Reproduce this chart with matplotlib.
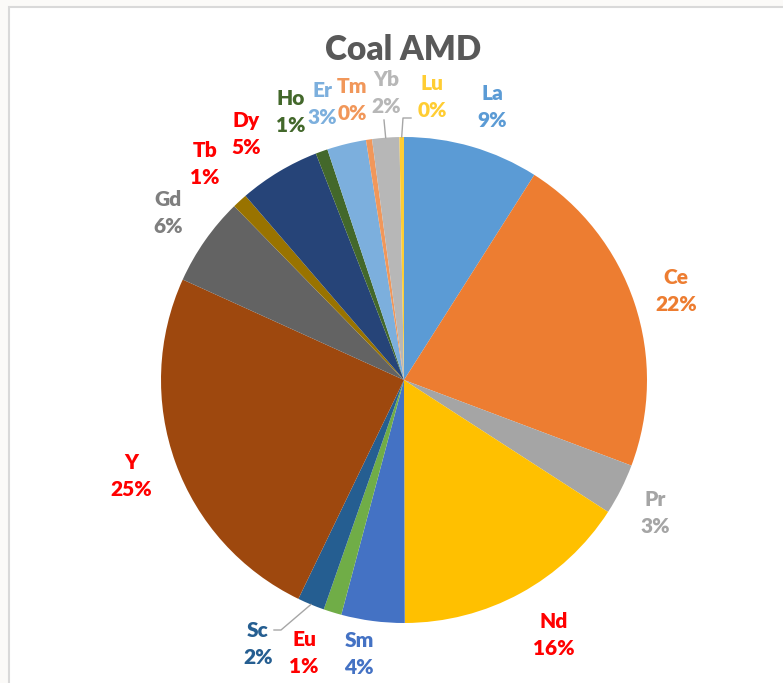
import numpy as np
import matplotlib.pyplot as plt
from matplotlib.patches import Rectangle

# share of each rare earth element in the coal AMD sample (%)
elements = ['La', 'Ce', 'Pr', 'Nd', 'Sm', 'Eu', 'Sc', 'Y',
            'Gd', 'Tb', 'Dy', 'Ho', 'Er', 'Tm', 'Yb', 'Lu']
shares = [9.0, 21.7, 3.4, 15.8, 4.2, 1.2, 1.8, 24.6,
          5.9, 1.0, 5.4, 0.8, 2.6, 0.4, 1.8, 0.3]

slice_colors = ['#5B9BD5', '#ED7D31', '#A5A5A5', '#FFC000', '#4472C4', '#70AD47',
                '#255E91', '#9E480E', '#636363', '#997300', '#264478', '#43682B',
                '#7CAFDD', '#F1975A', '#B7B7B7', '#FFCD33']
# critical elements (Nd, Eu, Y, Tb, Dy) get red labels
label_colors = ['#5B9BD5', '#ED7D31', '#A5A5A5', '#FF0000', '#4472C4', '#FF0000',
                '#255E91', '#FF0000', '#7F7F7F', '#FF0000', '#FF0000', '#43682B',
                '#7CAFDD', '#F1975A', '#B7B7B7', '#FFCD33']

# label block centres, in pixels from the top-left corner
label_pos = [(492, 107), (676, 291), (655, 513), (554, 635), (359, 654), (304, 653),
             (258, 644), (131, 476), (168, 213), (205, 164), (246, 134), (291, 112),
             (322, 104), (352, 100), (386, 93), (432, 97)]

W, H = 783, 683
cx, cy, R = 404, 380, 243

plt.rcParams['font.family'] = ['Lato', 'DejaVu Sans']

fig = plt.figure(figsize=(W / 100, H / 100), dpi=100)
fig.patch.set_facecolor('#FBFAF8')
fig.patches.append(Rectangle((9, -10), W + 20, H - 7 + 10, transform=None,
                             facecolor='white', edgecolor='#D9D9D9', lw=1.5,
                             zorder=-1))

ax = fig.add_axes([0, 0, 1, 1])
ax.set_facecolor('none')

wedges, _ = ax.pie(shares, colors=slice_colors, startangle=90, counterclock=False,
                   center=(cx, H - cy), radius=R,
                   wedgeprops=dict(linewidth=0))

total = sum(shares)
for name, v, col, (lx, ly) in zip(elements, shares, label_colors, label_pos):
    pct = round(v / total * 100)
    ax.text(lx, H - ly, f'{name}\n{pct}%', ha='center', va='center',
            fontsize=15, fontweight='heavy', color=col, linespacing=1.45)


def rim_point(w):
    ang = np.deg2rad((w.theta1 + w.theta2) / 2)
    return cx + R * np.cos(ang), H - cy + R * np.sin(ang)


# leader lines for the crowded small slices
leaders = {'Sc': [(281, 630), (274, 630)],
           'Yb': [(384, 120)],
           'Lu': [(403, 118), (411, 118)]}
for name, pts in leaders.items():
    w = wedges[elements.index(name)]
    x0, y0 = rim_point(w)
    xs = [x0] + [p[0] for p in pts]
    ys = [y0] + [H - p[1] for p in pts]
    ax.plot(xs, ys, color='#A6A6A6', lw=1)

ax.text(403, H - 50, 'Coal AMD', ha='center', va='center',
        fontsize=24, fontweight='heavy', color='#595959')

ax.set_xlim(0, W)
ax.set_ylim(0, H)
ax.set_aspect('equal', adjustable='box')
ax.axis('off')

fig.savefig('out.png', dpi=100)
